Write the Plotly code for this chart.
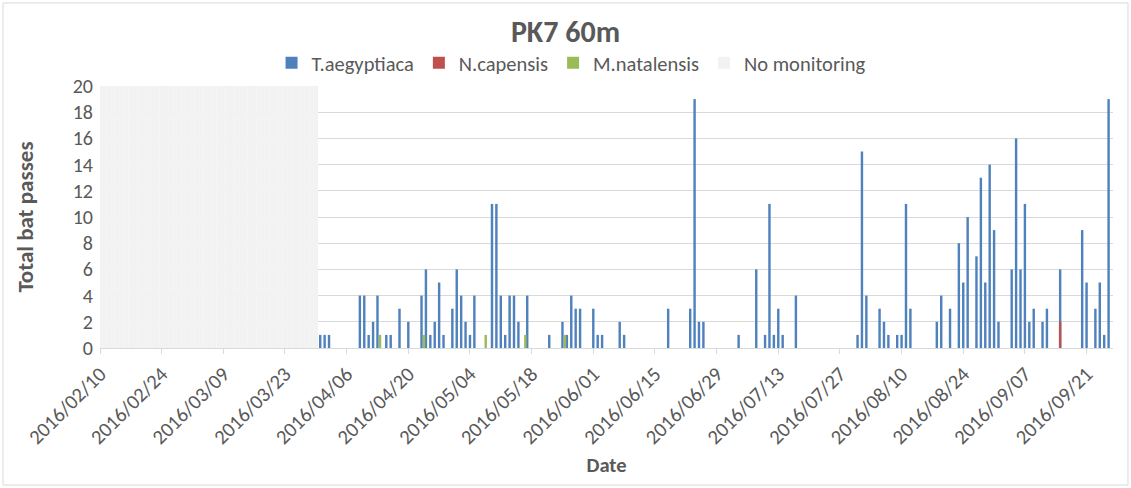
"""PK7 60m - daily bat passes by species (Plotly recreation)."""

import pandas as pd
import plotly.graph_objects as go

# ------------------------------------------------------------------
# Data
# ------------------------------------------------------------------
T_AEG_DATES = [
    "2016-03-31", "2016-04-01", "2016-04-02", "2016-04-09", "2016-04-10",
    "2016-04-11", "2016-04-12", "2016-04-13", "2016-04-15", "2016-04-16",
    "2016-04-18", "2016-04-20", "2016-04-23", "2016-04-24", "2016-04-25",
    "2016-04-26", "2016-04-27", "2016-04-28", "2016-04-30", "2016-05-01",
    "2016-05-02", "2016-05-03", "2016-05-04", "2016-05-05", "2016-05-09",
    "2016-05-10", "2016-05-11", "2016-05-12", "2016-05-13", "2016-05-14",
    "2016-05-15", "2016-05-17", "2016-05-22", "2016-05-25", "2016-05-26",
    "2016-05-27", "2016-05-28", "2016-05-29", "2016-06-01", "2016-06-02",
    "2016-06-03", "2016-06-07", "2016-06-08", "2016-06-18", "2016-06-23",
    "2016-06-24", "2016-06-25", "2016-06-26", "2016-07-04", "2016-07-08",
    "2016-07-10", "2016-07-11", "2016-07-12", "2016-07-13", "2016-07-14",
    "2016-07-17", "2016-07-31", "2016-08-01", "2016-08-02", "2016-08-05",
    "2016-08-06", "2016-08-07", "2016-08-09", "2016-08-10", "2016-08-11",
    "2016-08-12", "2016-08-18", "2016-08-19", "2016-08-21", "2016-08-23",
    "2016-08-24", "2016-08-25", "2016-08-27", "2016-08-28", "2016-08-29",
    "2016-08-30", "2016-08-31", "2016-09-01", "2016-09-04", "2016-09-05",
    "2016-09-06", "2016-09-07", "2016-09-08", "2016-09-09", "2016-09-11",
    "2016-09-12", "2016-09-15", "2016-09-20", "2016-09-21", "2016-09-23",
    "2016-09-24", "2016-09-25", "2016-09-26",
]
T_AEG_PASSES = [
    1, 1, 1, 4, 4,
    1, 2, 4, 1, 1,
    3, 2, 4, 6, 1,
    2, 5, 1, 3, 6,
    4, 2, 1, 4, 11,
    11, 4, 1, 4, 4,
    2, 4, 1, 2, 1,
    4, 3, 3, 3, 1,
    1, 2, 1, 3, 3,
    19, 2, 2, 1, 6,
    1, 11, 1, 3, 1,
    4, 1, 15, 4, 3,
    2, 1, 1, 1, 11,
    3, 2, 4, 3, 8,
    5, 10, 7, 13, 5,
    14, 9, 2, 6, 16,
    6, 11, 2, 3, 2,
    3, 6, 9, 5, 3,
    5, 1, 19,
]

N_CAP_DATES = ["2016-09-15"]
N_CAP_PASSES = [2]

M_NAT_DATES = ["2016-04-13", "2016-04-23", "2016-05-07", "2016-05-16", "2016-05-25"]
M_NAT_PASSES = [1, 1, 1, 1, 1]

# detector offline period, drawn as full-height bars
NO_MON_START = "2016-02-10"
NO_MON_END = "2016-03-30"
NO_MON_LEVEL = 20

X_RANGE = ["2016-02-10", "2016-09-27"]

# ------------------------------------------------------------------
# Style
# ------------------------------------------------------------------
DAY_MS = 86400000
BAR_W = 0.55 * DAY_MS
FONT = "Calibri, Carlito, Lato, sans-serif"
TXT = "#595959"
GRID = "#D9D9D9"

no_mon_dates = pd.date_range(NO_MON_START, NO_MON_END, freq="D")

fig = go.Figure()

fig.add_trace(go.Bar(
    x=pd.to_datetime(T_AEG_DATES), y=T_AEG_PASSES, name="T.aegyptiaca",
    marker_color="#4F81BD", marker_line_width=0, width=BAR_W,
))
fig.add_trace(go.Bar(
    x=pd.to_datetime(N_CAP_DATES), y=N_CAP_PASSES, name="N.capensis",
    marker_color="#C0504D", marker_line_width=0, width=BAR_W,
))
# M.natalensis sits just to the right of the T.aegyptiaca bar in each day slot
fig.add_trace(go.Bar(
    x=pd.to_datetime(M_NAT_DATES), y=M_NAT_PASSES, name="M.natalensis",
    marker_color="#9BBB59", marker_line_width=0, width=BAR_W,
    offset=0.3 * DAY_MS,
))
fig.add_trace(go.Bar(
    x=no_mon_dates, y=[NO_MON_LEVEL] * len(no_mon_dates), name="No monitoring",
    marker_color="#F2F2F2", marker_line_width=0, width=DAY_MS,
))

fig.update_layout(
    width=1131,
    height=488,
    barmode="overlay",
    paper_bgcolor="white",
    plot_bgcolor="white",
    font=dict(family=FONT, color=TXT, size=20),
    margin=dict(l=100, r=18, t=86, b=140, autoexpand=False),
    title=dict(
        text="<b>PK7 60m</b>",
        x=0.5, xref="container", xanchor="center",
        y=1 - 31 / 488, yref="container", yanchor="middle",
        font=dict(size=30, color=TXT, family=FONT),
    ),
    legend=dict(
        orientation="h",
        x=0.465, xanchor="center",
        y=1.088, yanchor="middle",
        font=dict(size=20.5, color=TXT),
        itemwidth=30,
        bgcolor="rgba(0,0,0,0)",
    ),
    showlegend=True,
    hovermode="x",
    xaxis=dict(
        type="date",
        range=X_RANGE,
        automargin=False,
        tick0=NO_MON_START,
        dtick=14 * DAY_MS,
        tickformat="%Y/%m/%d",
        tickangle=-45,
        ticks="outside",
        ticklen=5,
        tickcolor=GRID,
        showline=True,
        linecolor=GRID,
        linewidth=1,
        showgrid=False,
        tickfont=dict(size=20.5, color=TXT),
        title=dict(text="<b>Date</b>", font=dict(size=20.5, color=TXT), standoff=8),
    ),
    yaxis=dict(
        range=[0, 20],
        dtick=2,
        automargin=False,
        showgrid=True,
        gridcolor=GRID,
        gridwidth=1,
        zeroline=False,
        showline=False,
        ticks="",
        ticklabelstandoff=6,
        tickfont=dict(size=20, color=TXT),
        title=dict(text="<b>Total bat passes</b>", font=dict(size=23, color=TXT), standoff=32),
    ),
)

# chart-area border like the Excel frame
fig.add_shape(
    type="rect", xref="paper", yref="paper",
    x0=-0.0958, x1=1.0148, y0=-0.523, y1=1.317,
    line=dict(color=GRID, width=1), fillcolor="rgba(0,0,0,0)", layer="below",
)

# drop the browser's default body margin so the figure sits at the window origin
fig.write_html(
    "out.html",
    config={"displayModeBar": False},
    post_script="document.body.style.margin='0';",
)
